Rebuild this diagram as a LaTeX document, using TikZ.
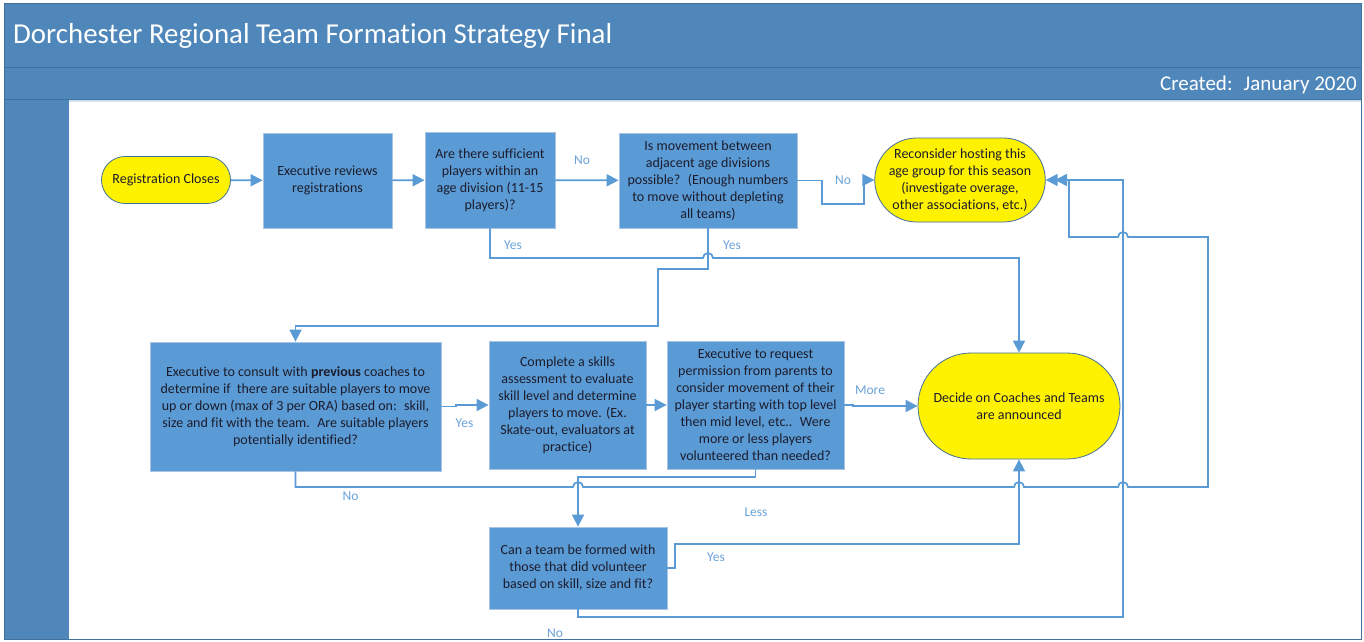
\documentclass[tikz,border=0pt]{standalone}
\usepackage{fontspec}
\setmainfont{Carlito}[Ligatures=NoCommon]
\usetikzlibrary{arrows.meta,shapes.misc}

\definecolor{bandblue}{HTML}{4F87BA}
\definecolor{banddark}{HTML}{3F72A3}
\definecolor{boxblue}{HTML}{5B9BD5}
\definecolor{boxedge}{HTML}{A9C4E2}
\definecolor{lineblue}{HTML}{5B9BD5}
\definecolor{lblblue}{HTML}{6AA3DA}
\definecolor{termedge}{HTML}{41719C}
\definecolor{txtdark}{HTML}{1C1C2C}

\tikzset{
  proc/.style={rectangle, fill=boxblue, draw=boxedge, line width=0.8pt, inner sep=0pt,
    align=center, text=txtdark, font=\fontsize{14}{17}\selectfont},
  term/.style={rounded rectangle, fill=yellow, draw=termedge, line width=0.8pt, inner sep=0pt,
    align=center, text=txtdark, font=\fontsize{14}{17}\selectfont},
  conn/.style={draw=lineblue, line width=1.7pt, -{Triangle[length=12pt,width=12pt]}},
  lbl/.style={text=lblblue, inner sep=0pt, font=\fontsize{13.5}{16}\selectfont},
}

\begin{document}
\begin{tikzpicture}[x=1pt,y=-1pt]

\useasboundingbox (0,0) rectangle (1364,641);

% frame
\fill[white] (0,0) rectangle (1364,641);
\fill[bandblue] (4,3) rectangle (1361,99);
\fill[bandblue] (4,99) rectangle (69,639);
\fill[bandblue!25] (69,99) rectangle (1361,102);
\draw[banddark, line width=0.8pt] (4,67) -- (1361,67);
\draw[banddark, line width=0.6pt] (4,99) -- (1361,99);
\draw[termedge, line width=1pt] (4,3) rectangle (1361,639);

\node[anchor=base west, text=white, inner sep=0pt, font=\fontsize{28.9}{32}\selectfont]
  (title) at (13,43) {Dorchester Regional Team Formation Strategy Final};
\node[anchor=base east, text=white, inner sep=0pt, font=\fontsize{21}{24}\selectfont]
  (created) at (1357,90) {Created:~ January 2020};

% shapes
\node[term, minimum width=129pt, minimum height=47pt] (reg) at (166,180) {Registration Closes};
\node[proc, minimum width=129pt, minimum height=95pt] (exec) at (327.5,180.5)
  {Executive reviews\\registrations};
\node[proc, minimum width=130pt, minimum height=96pt] (suff) at (490,180)
  {Are there sufficient\\players within an\\age division (11-15\\players)?};
\node[proc, minimum width=178pt, minimum height=95pt] (move) at (708,180.5)
  {Is movement between\\adjacent age divisions\\possible?~ (Enough numbers\\to move without depleting\\all teams)};
\node[term, minimum width=156pt, minimum height=84pt] (recon) at (960,180)
  {Reconsider hosting this\\age group for this season\\(investigate overage,\\other associations, etc.)};

\node[proc, minimum width=291pt, minimum height=129pt] (consult) at (295.5,406.5)
  {Executive to consult with \textbf{previous} coaches to\\determine if~ there are suitable players to move\\up or down (max of 3 per ORA) based on:~ skill,\\size and fit with the team.~ Are suitable players\\potentially identified?};
\node[proc, minimum width=157pt, minimum height=128pt] (skills) at (567.5,405)
  {Complete a skills\\assessment to evaluate\\skill level and determine\\players to move. (Ex.\\Skate-out, evaluators at\\practice)};
\node[proc, minimum width=177pt, minimum height=128pt] (request) at (755.5,405)
  {Executive to request\\permission from parents to\\consider movement of their\\player starting with top level\\then mid level, etc..~ Were\\more or less players\\volunteered than needed?};
\node[term, minimum width=202pt, minimum height=106pt] (decide) at (1019,406)
  {Decide on Coaches and Teams\\are announced};
\node[proc, minimum width=178pt, minimum height=82pt] (canteam) at (578,568)
  {Can a team be formed with\\those that did volunteer\\based on skill, size and fit?};

% connectors
\draw[conn] (reg) -- (exec);
\draw[conn] (exec) -- (suff);
\draw[conn] (suff) -- (move);
\draw[conn] (move.east) -- (822,180.5) -- (822,204) -- (864,204) |- (recon.west);
\draw[conn] (suff.south) -- (490,258) -- (703,258) arc[start angle=180,end angle=360,radius=5]
  -- (1019,258) -- (decide.north);
\draw[conn] (move.south) -- (708,269) -- (658,269) -- (658,326) -| (consult.north);
\draw[conn] (consult.east) -- (456,406.5) -- (456,405) -- (skills.west);
\draw[conn] (skills) -- (request);
\draw[conn] (request.east) -- (853,405) |- (decide.west);
\draw[conn] (request.south) -- (755.5,477) -- (578,477) -- (canteam.north);
\draw[conn] (canteam.east) -- (675,568) -- (675,544) -| (decide.south);
\draw[conn] (canteam.south) -- (578,617) -- (1123,617) -- (1123,180) -- (recon.east);
\draw[conn] (consult.south) -- (295.5,487)
  -- (573,487) arc[start angle=180,end angle=360,radius=5]
  -- (1014,487) arc[start angle=180,end angle=360,radius=5]
  -- (1118,487) arc[start angle=180,end angle=360,radius=5]
  -- (1208,487) -- (1208,237)
  -- (1128,237) arc[start angle=0,end angle=-180,radius=5]
  -- (1069,237) -- (1069,180) -- (1055,180);

% labels
\node[lbl] (l1) at (582,160) {No};
\node[lbl] (l2) at (843,180) {No};
\node[lbl] (l3) at (513,245) {Yes};
\node[lbl] (l4) at (732,245) {Yes};
\node[lbl] (l5) at (464.5,423) {Yes};
\node[lbl] (l6) at (870,390) {More};
\node[lbl] (l7) at (350.5,496) {No};
\node[lbl] (l8) at (756,512) {Less};
\node[lbl] (l9) at (716,557) {Yes};
\node[lbl] (l10) at (555,633) {No};

\end{tikzpicture}
\end{document}
